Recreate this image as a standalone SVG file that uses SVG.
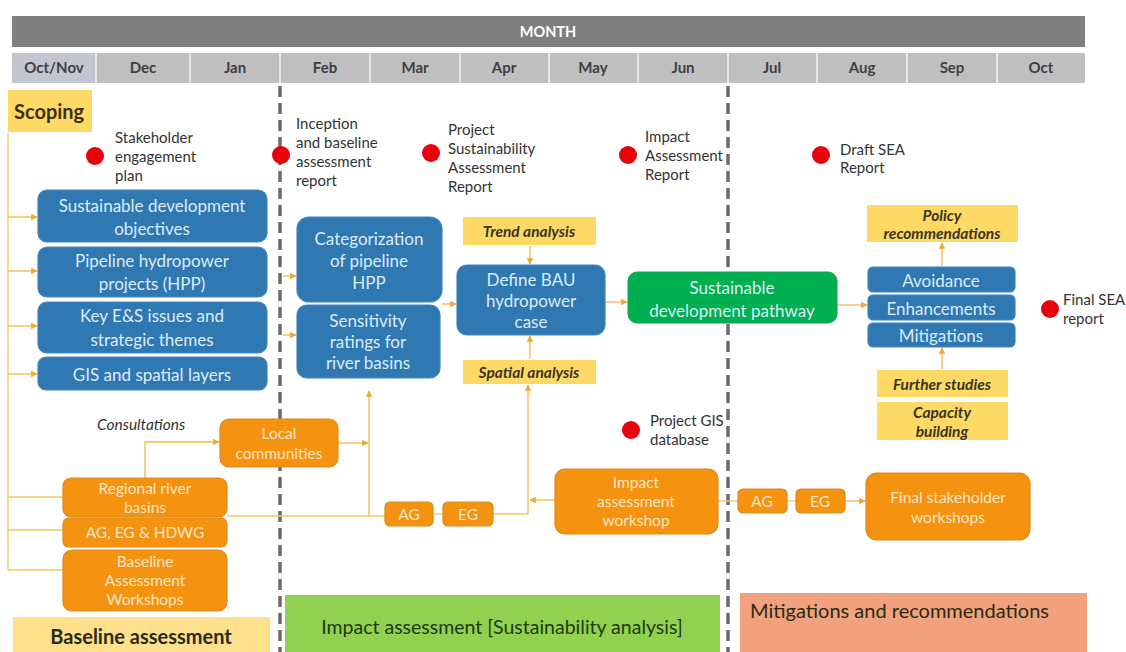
<svg xmlns="http://www.w3.org/2000/svg" width="1126" height="652" viewBox="0 0 1126 652">
<style>
text{font-family:Lato,"Open Sans","Liberation Sans",sans-serif}
.mon{font-size:15px;font-weight:bold;fill:#404040;text-anchor:middle}
.ms{font-size:15px;fill:#333}
.dot{fill:#e8000b}
.blue{fill:#2f78b2;stroke:#3f86bf;stroke-width:1.2}
.bt{font-size:17px;fill:#dcecf8;text-anchor:middle;dominant-baseline:central}
.org{fill:#f5920f;stroke:#d98a1e;stroke-width:1.2}
.ot{font-size:15.5px;fill:#fde5c4;text-anchor:middle;dominant-baseline:central}
.yel{fill:#ffd966}
.yt{font-size:15.5px;font-style:italic;font-weight:bold;fill:#3b3420;text-anchor:middle;dominant-baseline:central}
.ln{fill:none;stroke:#f3c960;stroke-width:1.3}
.ar{fill:none;stroke:#f3b94a;stroke-width:1.3;marker-end:url(#ah)}
.dash{stroke:#6b6b6b;stroke-width:3.5;stroke-dasharray:11 6}
.lab{font-size:20px;fill:#2b2b10}
</style>
<defs>
<marker id="ah" viewBox="0 0 10 10" refX="9" refY="5" markerWidth="5" markerHeight="5" orient="auto">
<path d="M0,0 L10,5 L0,10 z" fill="#f0a830"/>
</marker>
</defs>

<g id="header">
<rect x="12" y="16" width="1073" height="31" fill="#7f7f7f"/>
<text x="548" y="37" font-size="14.5" font-weight="bold" fill="#ffffff" text-anchor="middle">MONTH</text>
<rect x="12" y="53" width="1073" height="30" fill="#bfbfbf"/>
<rect x="12" y="53" width="84" height="30" fill="#c3c6cf"/>
<g stroke="#e6e6e6" stroke-width="2">
<line x1="96" y1="53" x2="96" y2="83"/><line x1="190" y1="53" x2="190" y2="83"/><line x1="280" y1="53" x2="280" y2="83"/><line x1="370" y1="53" x2="370" y2="83"/><line x1="460" y1="53" x2="460" y2="83"/><line x1="549" y1="53" x2="549" y2="83"/><line x1="638" y1="53" x2="638" y2="83"/><line x1="728" y1="53" x2="728" y2="83"/><line x1="817" y1="53" x2="817" y2="83"/><line x1="907" y1="53" x2="907" y2="83"/><line x1="997" y1="53" x2="997" y2="83"/>
</g>
<text class="mon" x="54" y="73">Oct/Nov</text>
<text class="mon" x="143" y="73">Dec</text>
<text class="mon" x="235" y="73">Jan</text>
<text class="mon" x="325" y="73">Feb</text>
<text class="mon" x="415" y="73">Mar</text>
<text class="mon" x="504" y="73">Apr</text>
<text class="mon" x="593" y="73">May</text>
<text class="mon" x="683" y="73">Jun</text>
<text class="mon" x="772" y="73">Jul</text>
<text class="mon" x="862" y="73">Aug</text>
<text class="mon" x="952" y="73">Sep</text>
<text class="mon" x="1041" y="73">Oct</text>
</g>

<g id="phases">
<rect x="13" y="617" width="257" height="35" fill="#fde08c"/>
<text class="lab" x="141" y="644" text-anchor="middle" font-weight="bold">Baseline assessment</text>
<rect x="285" y="595" width="435" height="57" fill="#92d050"/>
<text x="502" y="634" font-size="19.5" fill="#1f3a10" text-anchor="middle">Impact assessment [Sustainability analysis]</text>
<rect x="740" y="593" width="347" height="59" fill="#f2a17f"/>
<text class="lab" x="750" y="618" fill="#3a1a10">Mitigations and recommendations</text>
</g>

<g id="dividers">
<line class="dash" x1="280" y1="86" x2="280" y2="652"/>
<line class="dash" x1="728" y1="86" x2="728" y2="652"/>
</g>

<g id="connectors">
<path class="ln" d="M8,133 V570"/>
<path class="ar" d="M8,217 H37"/>
<path class="ar" d="M8,271 H37"/>
<path class="ar" d="M8,326 H37"/>
<path class="ar" d="M8,374 H37"/>
<path class="ln" d="M8,497 H63"/>
<path class="ln" d="M8,530 H63"/>
<path class="ln" d="M8,570 H63"/>
<path class="ar" d="M283,276 H296"/>
<path class="ar" d="M283,335 H296"/>
<path class="ar" d="M442,304 H456"/>
<path class="ar" d="M530,246 V264"/>
<path class="ar" d="M530,359 V336"/>
<path class="ar" d="M605,302 H627"/>
<path class="ar" d="M837,305 H867"/>
<path class="ar" d="M942,266 V243"/>
<path class="ar" d="M942,369 V348"/>
<path class="ar" d="M145,478 V442 H219"/>
<path class="ln" d="M227,516 H385"/>
<path class="ar" d="M369,516 V391"/>
<path class="ar" d="M338,443 H368"/>
<path class="ln" d="M433,514 H443"/>
<path class="ln" d="M493,514 H528"/>
<path class="ar" d="M528,514 V385"/>
<path class="ar" d="M555,500 H530"/>
<path class="ln" d="M718,501 H738"/>
<path class="ln" d="M787,501 H796"/>
<path class="ar" d="M845,501 H865"/>
</g>

<g id="scoping">
<rect x="8" y="90" width="84" height="42" fill="#ffd966"/>
<text x="14" y="119" font-size="20" font-weight="bold" fill="#3b3010">Scoping</text>
</g>

<g id="m-stakeholder"><circle class="dot" cx="95" cy="156" r="9"/><text class="ms" x="115" y="143">Stakeholder</text><text class="ms" x="115" y="162">engagement</text><text class="ms" x="115" y="181">plan</text></g>
<g id="m-inception"><circle class="dot" cx="281" cy="155" r="9"/><text class="ms" x="296" y="129">Inception</text><text class="ms" x="296" y="148">and baseline</text><text class="ms" x="296" y="167">assessment</text><text class="ms" x="296" y="186">report</text></g>
<g id="m-psar"><circle class="dot" cx="431" cy="153" r="9"/><text class="ms" x="448" y="135">Project</text><text class="ms" x="448" y="154">Sustainability</text><text class="ms" x="448" y="173">Assessment</text><text class="ms" x="448" y="192">Report</text></g>
<g id="m-iar"><circle class="dot" cx="628" cy="155" r="9"/><text class="ms" x="645" y="142">Impact</text><text class="ms" x="645" y="161">Assessment</text><text class="ms" x="645" y="180">Report</text></g>
<g id="m-draft"><circle class="dot" cx="821" cy="155" r="9"/><text class="ms" x="840" y="155">Draft SEA</text><text class="ms" x="840" y="173">Report</text></g>
<g id="m-final"><circle class="dot" cx="1050" cy="309" r="9"/><text class="ms" x="1063" y="305">Final SEA</text><text class="ms" x="1063" y="324">report</text></g>
<g id="m-gis"><circle class="dot" cx="631" cy="430" r="9"/><text class="ms" x="650" y="426">Project GIS</text><text class="ms" x="650" y="445">database</text></g>

<g id="sdo"><rect class="blue" x="38" y="190" width="229" height="52" rx="9"/><text class="bt" x="152" y="205">Sustainable development</text><text class="bt" x="152" y="228">objectives</text></g>
<g id="hpp"><rect class="blue" x="38" y="247" width="229" height="50" rx="9"/><text class="bt" x="152" y="260">Pipeline hydropower</text><text class="bt" x="152" y="283">projects (HPP)</text></g>
<g id="es"><rect class="blue" x="38" y="302" width="229" height="51" rx="9"/><text class="bt" x="152" y="315">Key E&amp;S issues and</text><text class="bt" x="152" y="339">strategic themes</text></g>
<g id="gis"><rect class="blue" x="38" y="357" width="229" height="33" rx="8"/><text class="bt" x="152" y="374">GIS and spatial layers</text></g>

<g id="categ"><rect class="blue" x="297" y="217" width="145" height="85" rx="12"/><text class="bt" x="369" y="238">Categorization</text><text class="bt" x="369" y="260">of pipeline</text><text class="bt" x="369" y="282">HPP</text></g>
<g id="sens"><rect class="blue" x="297" y="305" width="143" height="73" rx="10"/><text class="bt" x="368" y="320">Sensitivity</text><text class="bt" x="368" y="341">ratings for</text><text class="bt" x="368" y="362">river basins</text></g>

<g id="trend"><rect class="yel" x="463" y="217" width="133" height="28"/><text class="yt" x="529" y="231">Trend analysis</text></g>
<g id="bau"><rect class="blue" x="457" y="265" width="148" height="70" rx="10"/><text class="bt" x="531" y="279">Define BAU</text><text class="bt" x="531" y="300">hydropower</text><text class="bt" x="531" y="321">case</text></g>
<g id="spatial"><rect class="yel" x="463" y="360" width="133" height="24"/><text class="yt" x="529" y="372">Spatial analysis</text></g>

<g id="pathway"><rect x="628" y="272" width="209" height="51" rx="9" fill="#00b050" stroke="#10a050"/><text class="bt" x="732" y="287" fill="#dff5dc" font-size="18">Sustainable</text><text class="bt" x="732" y="310" fill="#dff5dc" font-size="18">development  pathway</text></g>

<g id="policy"><rect class="yel" x="867" y="205" width="151" height="37"/><text class="yt" x="942" y="215">Policy</text><text class="yt" x="942" y="233">recommendations</text></g>
<g id="avoid"><rect class="blue" x="868" y="267" width="147" height="25" rx="5"/><text class="bt" x="941" y="280">Avoidance</text></g>
<g id="enh"><rect class="blue" x="868" y="295" width="147" height="25" rx="5"/><text class="bt" x="941" y="308" font-size="16">Enhancements</text></g>
<g id="mitig"><rect class="blue" x="868" y="323" width="147" height="24" rx="5"/><text class="bt" x="941" y="335">Mitigations</text></g>
<g id="further"><rect class="yel" x="877" y="370" width="131" height="27"/><text class="yt" x="942" y="384">Further studies</text></g>
<g id="capacity"><rect class="yel" x="877" y="402" width="131" height="38"/><text class="yt" x="942" y="412">Capacity</text><text class="yt" x="942" y="431">building</text></g>

<g id="consult"><text x="97" y="430" font-size="15.5" font-style="italic" fill="#333">Consultations</text></g>
<g id="local"><rect class="org" x="220" y="419" width="118" height="48" rx="9"/><text class="ot" x="279" y="433">Local</text><text class="ot" x="279" y="453">communities</text></g>
<g id="regional"><rect class="org" x="63" y="478" width="164" height="39" rx="8"/><text class="ot" x="145" y="488">Regional river</text><text class="ot" x="145" y="507">basins</text></g>
<g id="agegh"><rect class="org" x="63" y="518" width="164" height="29" rx="6"/><text class="ot" x="145" y="532">AG, EG &amp; HDWG</text></g>
<g id="baseline-ws"><rect class="org" x="63" y="550" width="164" height="61" rx="9"/><text class="ot" x="145" y="561">Baseline</text><text class="ot" x="145" y="580">Assessment</text><text class="ot" x="145" y="599">Workshops</text></g>

<g id="ag1"><rect class="org" x="385" y="502" width="48" height="24" rx="5"/><text class="ot" x="409" y="514">AG</text></g>
<g id="eg1"><rect class="org" x="443" y="502" width="50" height="24" rx="5"/><text class="ot" x="468" y="514">EG</text></g>
<g id="impact-ws"><rect class="org" x="555" y="469" width="163" height="65" rx="10"/><text class="ot" x="636" y="482">Impact</text><text class="ot" x="636" y="501">assessment</text><text class="ot" x="636" y="520">workshop</text></g>
<g id="ag2"><rect class="org" x="738" y="489" width="49" height="24" rx="5"/><text class="ot" x="762" y="501">AG</text></g>
<g id="eg2"><rect class="org" x="796" y="489" width="49" height="24" rx="5"/><text class="ot" x="820" y="501">EG</text></g>
<g id="final-ws"><rect class="org" x="866" y="473" width="164" height="67" rx="11"/><text class="ot" x="948" y="497">Final stakeholder</text><text class="ot" x="948" y="517">workshops</text></g>
</svg>
